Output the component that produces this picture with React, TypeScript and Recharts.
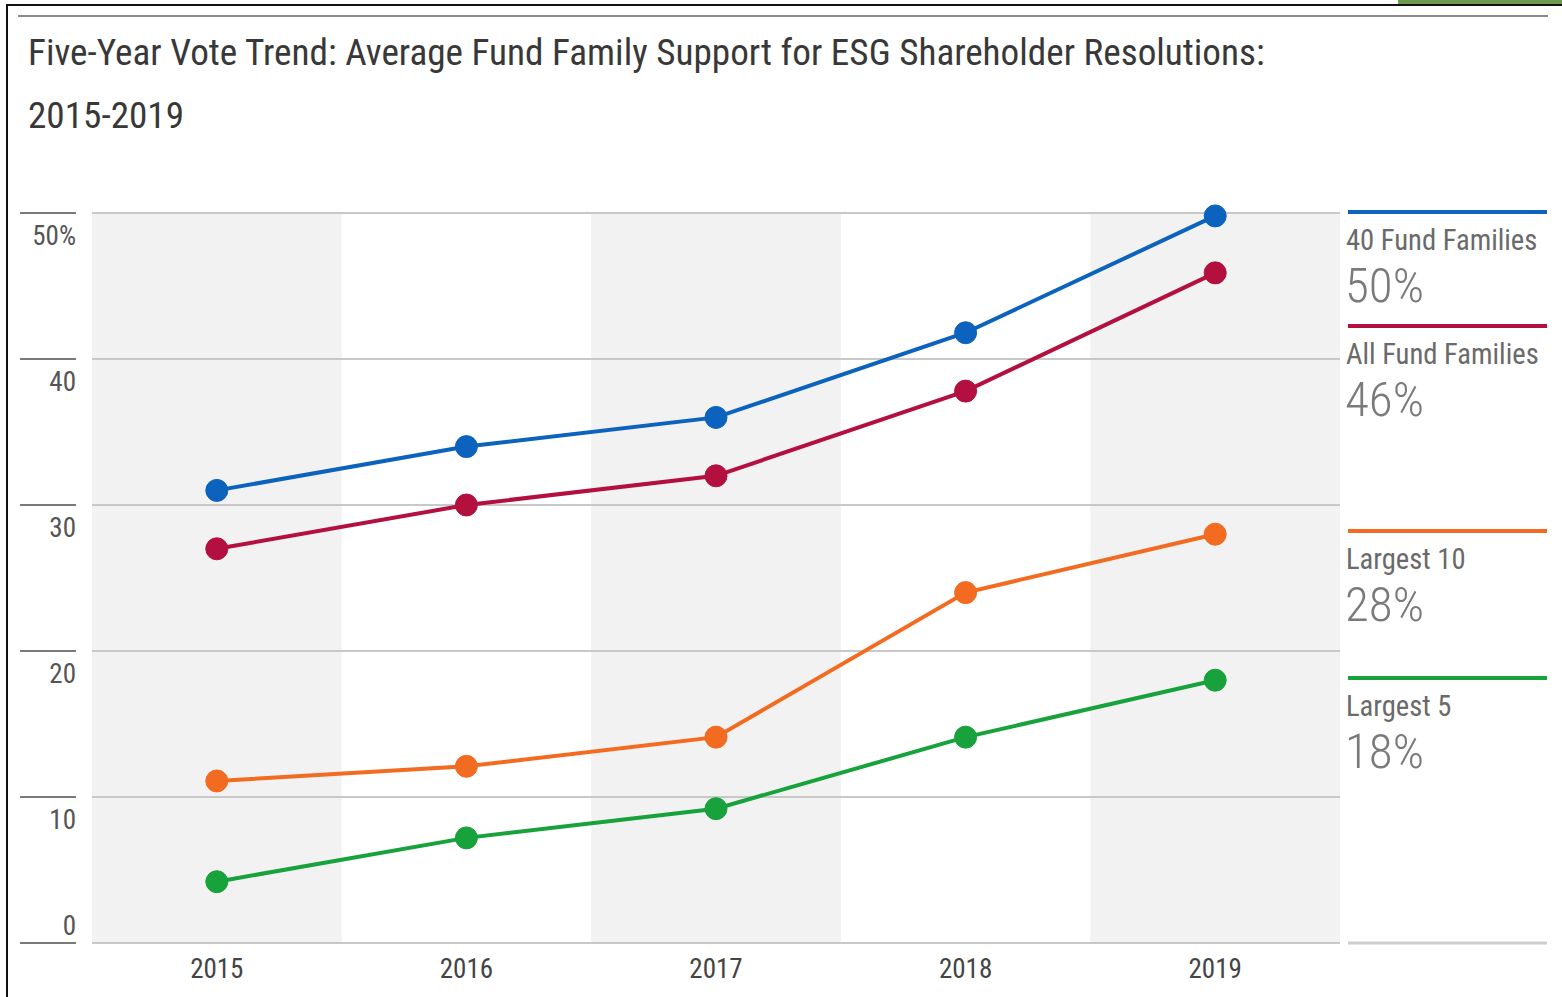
import React from "react";
import {
  LineChart,
  Line,
  XAxis,
  YAxis,
  ReferenceArea,
  ReferenceLine,
} from "recharts";

// vote support by year, in percent
const YEARS = ["2015", "2016", "2017", "2018", "2019"];
const FORTY_FAMILIES = [31, 34, 36, 41.8, 49.8];
const ALL_FAMILIES = [27, 30, 32, 37.8, 45.9];
const LARGEST_10 = [11.1, 12.1, 14.1, 24, 28];
const LARGEST_5 = [4.2, 7.2, 9.2, 14.1, 18];
const Y_TICKS = [0, 10, 20, 30, 40, 50];

const SERIES = [
  { key: "forty", name: "40 Fund Families", color: "#0b63bd", values: FORTY_FAMILIES },
  { key: "all", name: "All Fund Families", color: "#b3103f", values: ALL_FAMILIES },
  { key: "top10", name: "Largest 10", color: "#f26b21", values: LARGEST_10 },
  { key: "top5", name: "Largest 5", color: "#18a23c", values: LARGEST_5 },
];

// where each legend block sits on the right (top of its colored rule)
const LEGEND_TOPS = [212, 326, 531, 678];

const FONT =
  '"Roboto Condensed", "Liberation Sans Narrow", "DejaVu Sans Condensed", Roboto, sans-serif';

const data = YEARS.map((year, i) => {
  const row: Record<string, string | number> = { year };
  SERIES.forEach((s) => (row[s.key] = s.values[i]));
  return row;
});

const YTick = ({ y, payload }: any) => {
  const v = payload.value;
  const zero = v === 0;
  return (
    <g>
      <line x1={20} x2={76} y1={y} y2={y} stroke="#7a7a7a" strokeWidth={2} />
      <text
        x={76}
        y={zero ? y - 8 : y + 32}
        textAnchor="end"
        fontSize={27}
        fill="#555"
        fontFamily={FONT}
      >
        {v === 50 ? "50%" : v}
      </text>
    </g>
  );
};

const XTick = ({ x, y, payload }: any) => (
  <text x={x} y={y + 35} textAnchor="middle" fontSize={27} fill="#444" fontFamily={FONT}>
    {payload.value}
  </text>
);

function SideLegend() {
  return (
    <svg
      width={1562}
      height={997}
      style={{ position: "absolute", left: 0, top: 0, pointerEvents: "none" }}
    >
      {SERIES.map((s, i) => {
        const top = LEGEND_TOPS[i];
        const last = s.values[s.values.length - 1];
        return (
          <g key={s.key}>
            <line x1={1348} x2={1547} y1={top} y2={top} stroke={s.color} strokeWidth={4} />
            <text x={1346} y={top + 38} fontSize={28.6} fill="#6a6a6a" fontFamily={FONT}>
              {s.name}
            </text>
            <text
              x={1345}
              y={top + 90}
              fontSize={49}
              fontWeight={300}
              fill="#7a7a7a"
              fontFamily={FONT}
            >
              {`${Math.round(last)}%`}
            </text>
          </g>
        );
      })}
      <line x1={1348} x2={1547} y1={943} y2={943} stroke="#cfcfcf" strokeWidth={3} />
    </svg>
  );
}

export default function App() {
  return (
    <div
      style={{
        position: "absolute",
        left: 0,
        top: 0,
        width: 1562,
        height: 997,
        background: "#fff",
        overflow: "hidden",
      }}
    >
      {/* frame bits from the screenshot */}
      <div style={{ position: "absolute", left: 6, top: 4, width: 1556, height: 2, background: "#111" }} />
      <div style={{ position: "absolute", left: 6, top: 4, width: 2, height: 993, background: "#111" }} />
      <div style={{ position: "absolute", left: 1398, top: 0, width: 164, height: 4, background: "#6d9b4e" }} />
      <div style={{ position: "absolute", left: 18, top: 15, width: 1530, height: 2, background: "#8a8a8a" }} />

      <div
        style={{
          position: "absolute",
          left: 28,
          top: 21,
          fontFamily: FONT,
          fontSize: 37.2,
          lineHeight: "63px",
          color: "#383838",
          whiteSpace: "nowrap",
        }}
      >
        Five-Year Vote Trend: Average Fund Family Support for ESG Shareholder Resolutions:
        <br />
        2015-2019
      </div>

      <div style={{ position: "absolute", left: 0, top: 0 }}>
        <LineChart
          width={1562}
          height={997}
          data={data}
          margin={{ top: 213, right: 222, bottom: 0, left: 0 }}
        >
          {YEARS.filter((_, i) => i % 2 === 0).map((yr) => (
            <ReferenceArea
              key={yr}
              x1={yr}
              x2={yr}
              y1={0}
              y2={50}
              fill="#f2f2f2"
              fillOpacity={1}
              stroke="none"
            />
          ))}
          {Y_TICKS.map((t) => (
            <ReferenceLine key={t} y={t} stroke="#c8c8c8" strokeWidth={2} />
          ))}
          <XAxis
            dataKey="year"
            scale="band"
            height={54}
            axisLine={false}
            tickLine={false}
            tickSize={0}
            tickMargin={0}
            tick={<XTick />}
            interval={0}
          />
          <YAxis
            width={92}
            domain={[0, 50]}
            ticks={Y_TICKS}
            axisLine={false}
            tickLine={false}
            tickSize={0}
            tick={<YTick />}
            interval={0}
          />
          {SERIES.map((s) => (
            <Line
              key={s.key}
              type="linear"
              dataKey={s.key}
              name={s.name}
              stroke={s.color}
              strokeWidth={4}
              dot={{ r: 11, fill: s.color, stroke: s.color, strokeWidth: 1 }}
              activeDot={false}
              isAnimationActive={false}
            />
          ))}
        </LineChart>
      </div>

      <SideLegend />
    </div>
  );
}
